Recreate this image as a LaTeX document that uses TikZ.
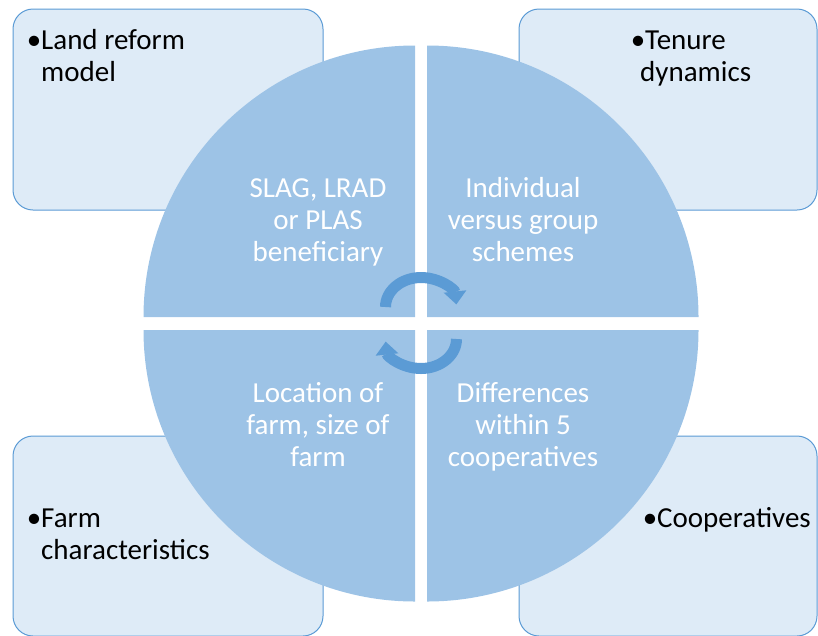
\documentclass[tikz,border=0pt]{standalone}
\usepackage{fontspec}
\setmainfont{Carlito}
\usetikzlibrary{arrows.meta}
\definecolor{boxfill}{HTML}{DEEBF7}
\definecolor{boxline}{HTML}{5B9BD5}
\definecolor{quadfill}{HTML}{9DC3E6}
\definecolor{arrowblue}{HTML}{5B9BD5}
\tikzset{
  outerbox/.style={draw=boxline, line width=1pt, fill=boxfill, rounded corners=20pt},
  quad/.style={fill=quadfill},
  boxtext/.style={inner sep=0pt, align=left, anchor=base west, text=black, font=\fontsize{29}{32}\selectfont},
  quadtext/.style={inner sep=0pt, align=center, anchor=base, text=white, font=\fontsize{29}{32}\selectfont},
  cyclearrow/.style={draw=arrowblue, line width=11pt, -{Triangle[width=22pt,length=13pt]}}
}
\begin{document}
\begin{tikzpicture}[x=1pt,y=-1pt]
\useasboundingbox (0,0) rectangle (818,635);
% corner boxes
\path[outerbox] (13,9) rectangle (323,210);
\path[outerbox] (519,9) rectangle (817,210);
\path[outerbox] (13,436) rectangle (323,636);
\path[outerbox] (519,436) rectangle (817,636);
% quadrants
\fill[quad] (415,317) -- ++(-271.5,0) arc[start angle=180, end angle=270, radius=271.5] -- cycle;
\fill[quad] (427,317) -- ++(0,-271.5) arc[start angle=270, end angle=360, radius=271.5] -- cycle;
\fill[quad] (427,330) -- ++(271.5,0) arc[start angle=0, end angle=90, radius=271.5] -- cycle;
\fill[quad] (415,330) -- ++(0,271.5) arc[start angle=90, end angle=180, radius=271.5] -- cycle;
% cycle arrows
\coordinate (topc) at (421,307);
\coordinate (botc) at (421,339);
\draw[cyclearrow] ([xshift=-35.5pt]topc) arc[start angle=180, end angle=355, x radius=35.5, y radius=29.5];
\draw[cyclearrow] ([xshift=35.5pt]botc) arc[start angle=0, end angle=175, x radius=35.5, y radius=29.5];
% quadrant texts (base anchor = last line)
\node[quadtext] (q1) at (318,261) {SLAG, LRAD\\or PLAS\\beneficiary};
\node[quadtext] (q2) at (523,261) {Individual\\versus group\\schemes};
\node[quadtext] (q3) at (318,466) {Location of\\farm, size of\\farm};
\node[quadtext] (q4) at (523,466) {Differences\\within 5\\cooperatives};
% box texts
\node[boxtext] (b1) at (41,81) {\llap{•}Land reform\\model};
\node[boxtext] (b2) at (640,81) {\hspace{5pt}\llap{•}Tenure\\dynamics};
\node[boxtext] (b3) at (41,559) {\llap{•}Farm\\characteristics};
\node[boxtext] (b4) at (657,527) {\llap{•}Cooperatives};
\end{tikzpicture}
\end{document}
